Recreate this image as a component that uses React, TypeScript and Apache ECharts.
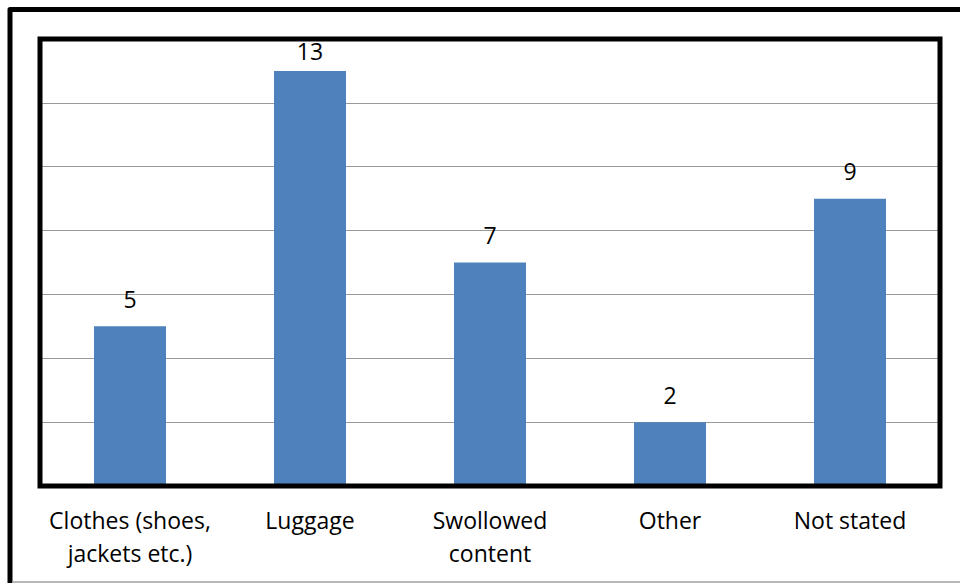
import React, { useEffect, useRef } from "react";
import * as echarts from "echarts";

const categories = ["Clothes (shoes,\njackets etc.)", "Luggage", "Swollowed\ncontent", "Other", "Not stated"];
const values = [5, 13, 7, 2, 9];
const yMin = 0;
const yMax = 14;
const yInterval = 2;

const FONT = "'Open Sans', 'Noto Sans', sans-serif";

export default function App() {
  const ref = useRef<HTMLDivElement>(null);
  useEffect(() => {
    if (!ref.current) return;
    document.body.style.margin = "0";
    const chart = echarts.init(ref.current, undefined, { renderer: "svg" });
    const maxVal = Math.max(...values);
    chart.setOption({
      animation: false,
      backgroundColor: "#ffffff",
      grid: { left: 40, right: 20, top: 39, bottom: 97, show: false },
      xAxis: {
        type: "category",
        data: categories,
        axisLine: { show: false },
        axisTick: { show: false },
        axisLabel: {
          color: "#000000",
          fontFamily: FONT,
          fontSize: 23,
          lineHeight: 33,
          margin: 17,
          interval: 0,
        },
      },
      yAxis: {
        type: "value",
        min: yMin,
        max: yMax,
        interval: yInterval,
        axisLabel: { show: false },
        axisLine: { show: false },
        axisTick: { show: false },
        splitLine: { lineStyle: { color: "#9a9a9a", width: 1 } },
      },
      series: [
        {
          type: "bar",
          data: values.map((v) => ({
            value: v,
            label: { distance: v === maxVal ? 8 : 16 },
          })),
          barWidth: "40%",
          itemStyle: { color: "#4f81bd" },
          label: {
            show: true,
            position: "top",
            distance: 16,
            color: "#000000",
            fontFamily: FONT,
            fontSize: 23,
          },
        },
      ],
      graphic: [
        {
          type: "rect",
          z: 100,
          shape: { x: 40, y: 39, width: 900, height: 447 },
          style: { fill: "none", stroke: "#000000", lineWidth: 5 },
        },
        {
          type: "polyline",
          z: 100,
          shape: { points: [[10, 583], [10, 9.5], [960, 9.5]] },
          style: { fill: "none", stroke: "#000000", lineWidth: 5, lineJoin: "round" },
        },
        {
          type: "line",
          z: 100,
          shape: { x1: 12, y1: 582, x2: 960, y2: 582 },
          style: { stroke: "#a0a0a0", lineWidth: 1.5 },
        },
      ],
    });
    return () => chart.dispose();
  }, []);
  return <div ref={ref} style={{ position: "fixed", left: 0, top: 0, width: 960, height: 583 }} />;
}
